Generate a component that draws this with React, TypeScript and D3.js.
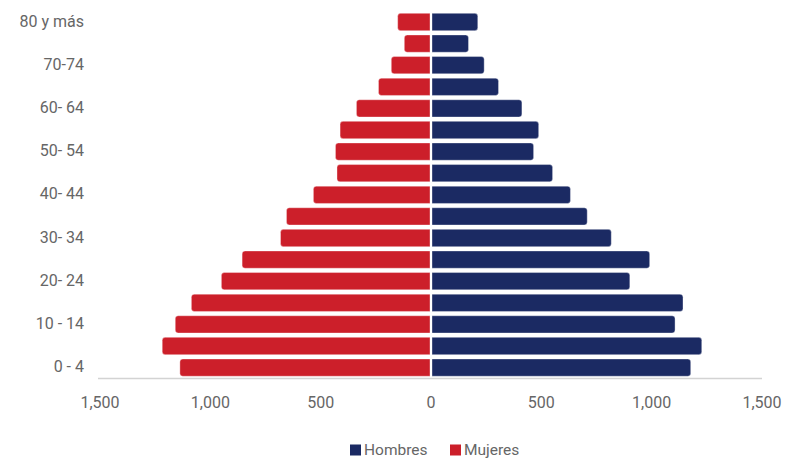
import React from "react";
import * as d3 from "d3";

const ageGroups = [
  "0-4", "5-9", "10-14", "15-19", "20-24", "25-29", "30-34", "35-39", "40-44",
  "45-49", "50-54", "55-59", "60-64", "65-69", "70-74", "75-79", "80 y más",
];
const ageLabels = [
  "0 - 4", "", "10 - 14", "", "20- 24", "", "30- 34", "", "40- 44",
  "", "50- 54", "", "60- 64", "", "70-74", "", "80 y más",
];
const hombres = [1177, 1227, 1106, 1142, 901, 991, 817, 708, 632, 551, 465, 488, 412, 306, 241, 170, 212];
const mujeres = [1138, 1218, 1159, 1086, 950, 856, 682, 655, 533, 426, 433, 412, 338, 238, 180, 121, 151];
const xTicks = [-1500, -1000, -500, 0, 500, 1000, 1500];
const seriesNames = ["Hombres", "Mujeres"];
const seriesColors = ["#1b2a63", "#cc1f2a"];

const W = 789;
const H = 458;

function barPath(x0: number, x1: number, y: number, h: number, r: number) {
  if (x1 >= x0) {
    const rr = Math.min(r, (x1 - x0) / 2, h / 2);
    return `M${x0},${y}H${x1 - rr}Q${x1},${y} ${x1},${y + rr}V${y + h - rr}Q${x1},${y + h} ${x1 - rr},${y + h}H${x0}Z`;
  } else {
    const rr = Math.min(r, (x0 - x1) / 2, h / 2);
    return `M${x0},${y}H${x1 + rr}Q${x1},${y} ${x1},${y + rr}V${y + h - rr}Q${x1},${y + h} ${x1 + rr},${y + h}H${x0}Z`;
  }
}

export default function App() {
  const x = d3.scaleLinear().domain([-1500, 1500]).range([100, 762]);
  const y = d3
    .scaleBand<string>()
    .domain([...ageGroups].reverse())
    .range([11.2, 378.4])
    .paddingInner(0.2)
    .paddingOuter(0.1);
  const bh = y.bandwidth();
  const fmt = d3.format(",");
  const font = "Roboto, 'Noto Sans', sans-serif";
  const x0 = x(0);

  return (
    <svg width={W} height={H} style={{ position: "absolute", left: 0, top: 0, background: "#fff" }} fontFamily={font}>
      {ageGroups.map((g, i) => {
        const yy = y(g)!;
        return (
          <g key={g}>
            <path d={barPath(x0 - 1, x(-mujeres[i]), yy, bh, 3)} fill={seriesColors[1]} stroke="#fff" strokeOpacity={0.6} strokeWidth={0.6} />
            <path d={barPath(x0 + 1, x(hombres[i]), yy, bh, 3)} fill={seriesColors[0]} stroke="#fff" strokeOpacity={0.6} strokeWidth={0.6} />
          </g>
        );
      })}
      <line x1={98} x2={x(1500)} y1={378.5} y2={378.5} stroke="#d3d3d3" strokeWidth={1.5} />
      {xTicks.map((t) => (
        <text key={t} x={x(t)} y={408} textAnchor="middle" fontSize={16} fill="#666">
          {fmt(Math.abs(t))}
        </text>
      ))}
      {ageGroups.map((g, i) =>
        ageLabels[i] ? (
          <text key={g} x={84} y={y(g)! + bh / 2 + 4.5} textAnchor="end" fontSize={16} fill="#666">
            {ageLabels[i]}
          </text>
        ) : null
      )}
      {seriesNames.map((s, i) => {
        const lx = i === 0 ? 350 : 450;
        return (
          <g key={s}>
            <rect x={lx} y={444.5} width={11} height={11} fill={seriesColors[i]} />
            <text x={lx + 14} y={455} fontSize={15.5} fill="#666">
              {s}
            </text>
          </g>
        );
      })}
    </svg>
  );
}
